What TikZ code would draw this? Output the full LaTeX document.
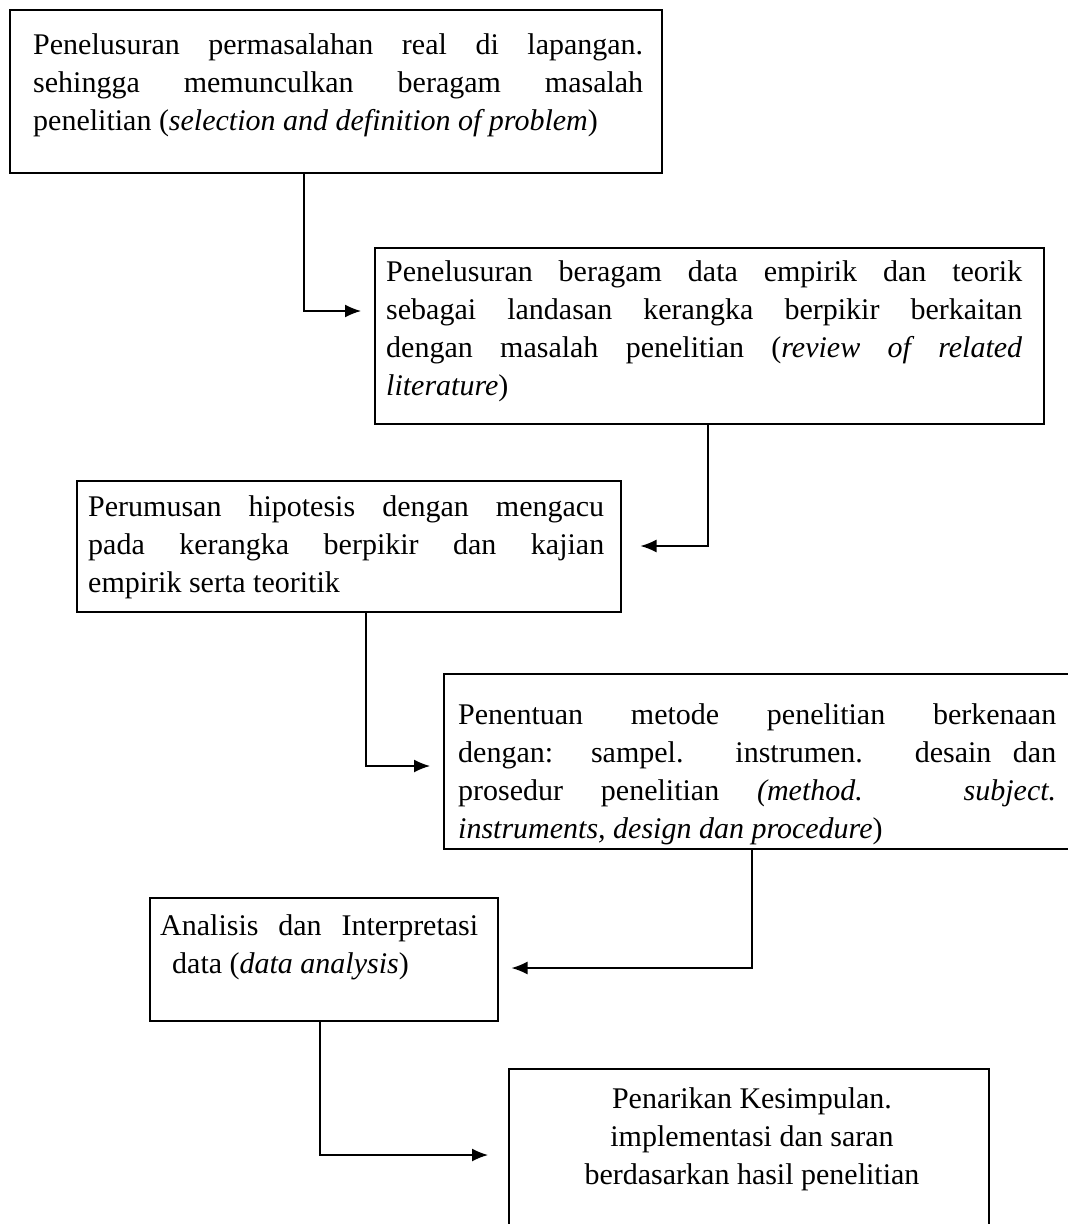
\documentclass[tikz,border=0pt]{standalone}
\usepackage{fontspec}
\setmainfont{Liberation Serif}
\usetikzlibrary{arrows.meta}
\tikzset{
  boxn/.style={draw=black, line width=1.5pt, inner sep=0pt, anchor=north west},
  txt/.style={inner sep=0pt, anchor=north west, font=\fontsize{30}{38}\selectfont},
  conn/.style={line width=1.5pt, -{Latex[length=16pt,width=13pt]}}
}
\begin{document}
\begin{tikzpicture}[x=1pt,y=-1pt]
\useasboundingbox (0,0) rectangle (1068,1224);
\clip (0,0) rectangle (1068,1224);
\fill[white] (0,0) rectangle (1068,1224);
% boxes
\node[boxn, minimum width=652pt, minimum height=163pt] (b1) at (9,9) {};
\node[boxn, minimum width=669pt, minimum height=176pt] (b2) at (374,247) {};
\node[boxn, minimum width=544pt, minimum height=131pt] (b3) at (76,480) {};
\node[boxn, minimum width=647pt, minimum height=175pt] (b4) at (443,673) {};
\node[boxn, minimum width=348pt, minimum height=123pt] (b5) at (149,897) {};
\node[boxn, minimum width=480pt, minimum height=190pt] (b6) at (508,1068) {};
% texts
\node[txt] (t1) at (33,27.4) {\begin{tabular}{@{}l@{}}
\makebox[610pt][s]{Penelusuran permasalahan real di lapangan.}\\
\makebox[610pt][s]{sehingga memunculkan beragam masalah}\\
penelitian (\textit{selection and definition of problem})
\end{tabular}};
\node[txt] (t2) at (386,254.4) {\begin{tabular}{@{}l@{}}
\makebox[636pt][s]{Penelusuran beragam data empirik dan teorik}\\
\makebox[636pt][s]{sebagai landasan kerangka berpikir berkaitan}\\
\makebox[636pt][s]{dengan masalah penelitian (\textit{review of related}}\\
\textit{literature})
\end{tabular}};
\node[txt] (t3) at (88,489.4) {\begin{tabular}{@{}l@{}}
\makebox[516pt][s]{Perumusan hipotesis dengan mengacu}\\
\makebox[516pt][s]{pada kerangka berpikir dan kajian}\\
empirik serta teoritik
\end{tabular}};
\node[txt] (t4) at (458,697.4) {\begin{tabular}{@{}l@{}}
\makebox[598pt][s]{Penentuan metode penelitian berkenaan}\\
\makebox[598pt][s]{dengan: sampel. instrumen. desain dan}\\
\makebox[598pt][s]{prosedur penelitian \textit{(method. subject.}}\\
\textit{instruments, design dan procedure})
\end{tabular}};
\node[txt] (t5) at (160,908.4) {\begin{tabular}{@{}l@{}}
\makebox[318pt][s]{Analisis dan Interpretasi}\\
\hspace*{12pt}data (\textit{data analysis})
\end{tabular}};
\node[txt, anchor=north] (t6) at (752,1081.4) {\begin{tabular}{@{}c@{}}
Penarikan Kesimpulan.\\
implementasi dan saran\\
berdasarkan hasil penelitian
\end{tabular}};
% connectors
\draw[conn, shorten >=13pt] (304,0 |- b1.south) |- (b2.west |- 0,311);
\draw[conn, shorten >=19pt] (708,0 |- b2.south) |- (b3.east |- 0,546);
\draw[conn, shorten >=13pt] (366,0 |- b3.south) |- (b4.west |- 0,766);
\draw[conn, shorten >=13pt] (752,0 |- b4.south) |- (b5.east |- 0,968);
\draw[conn, shorten >=20pt] (320,0 |- b5.south) |- (b6.west |- 0,1155);
\end{tikzpicture}
\end{document}
